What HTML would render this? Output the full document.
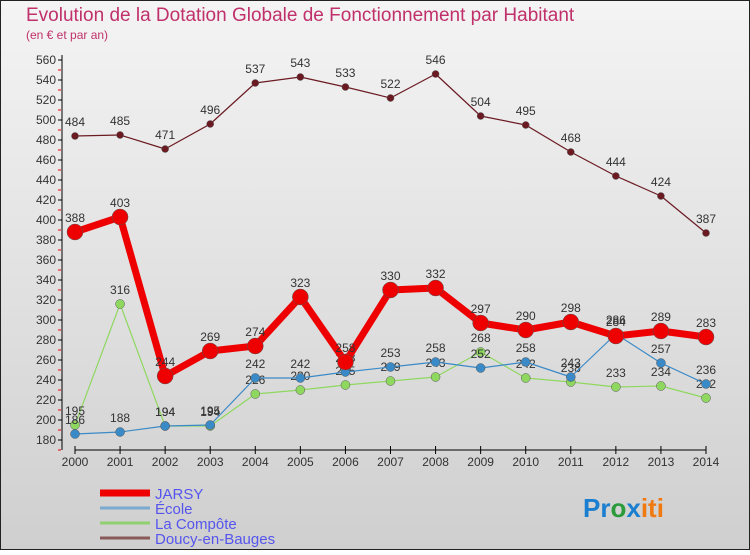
<!DOCTYPE html>
<html><head><meta charset="utf-8"><style>
body{margin:0;width:750px;height:550px;overflow:hidden;font-family:"Liberation Sans",sans-serif}
svg text{font-family:"Liberation Sans",sans-serif}
</style></head><body>
<svg id="c" width="750" height="550" xmlns="http://www.w3.org/2000/svg">
<defs><linearGradient id="bg" x1="0" y1="0" x2="0" y2="1"><stop offset="0" stop-color="#f4f4f4"/><stop offset="1" stop-color="#cfcfcf"/></linearGradient></defs>
<rect x="0.5" y="0.5" width="749" height="549" fill="url(#bg)" stroke="#222"/>
<text x="26" y="21" font-size="19" fill="#c0306a">Evolution de la Dotation Globale de Fonctionnement par Habitant</text>
<text x="26" y="39" font-size="12" fill="#c0306a">(en € et par an)</text>
<g id="axes"></g><g id="series"></g><g id="legend"></g>
<text x="583" y="517" font-size="26" font-weight="bold"><tspan fill="#1a7fd0">Pr</tspan><tspan fill="#2a9a3a">o</tspan><tspan fill="#1a7fd0">x</tspan><tspan fill="#f07a10">iti</tspan></text>
</svg>
<script>
const years=["2000","2001","2002","2003","2004","2005","2006","2007","2008","2009","2010","2011","2012","2013","2014"];
const jarsy=[388,403,244,269,274,323,258,330,332,297,290,298,284,289,283];
const ecole=[186,188,194,195,242,242,248,253,258,252,258,243,286,257,236];
const compote=[195,316,194,194,226,230,235,239,243,268,242,238,233,234,222];
const doucy=[484,485,471,496,537,543,533,522,546,504,495,468,444,424,387];
const yTicks=[180,200,220,240,260,280,300,320,340,360,380,400,420,440,460,480,500,520,540,560];
const NS="http://www.w3.org/2000/svg";
const xs=i=>75+i*(706-75)/14;
const ys=v=>440-(v-180)*(380/380);
function mk(t,a,p){const e=document.createElementNS(NS,t);for(const k in a)e.setAttribute(k,a[k]);p.appendChild(e);return e;}
const ax=document.getElementById('axes');
let l=mk('line',{x1:62,y1:55,x2:62,y2:450,stroke:'#000'},ax);


l=mk('line',{x1:75,y1:450,x2:706,y2:450,stroke:'#000'},ax);


yTicks.forEach(v=>{const y=ys(v);
 mk('line',{x1:58,y1:y,x2:62,y2:y,stroke:'#000'},ax);
 mk('line',{x1:58,y1:y+10,x2:61,y2:y+10,stroke:'#e00'},ax);
 const t=mk('text',{x:56,y:y+4,'font-size':12,'text-anchor':'end',fill:'#333'},ax);t.textContent=v;
 
 });
years.forEach((yr,i)=>{const x=xs(i);
 mk('line',{x1:x,y1:446,x2:x,y2:454,stroke:'#000'},ax);
 const t=mk('text',{x:x,y:466,'font-size':12,'text-anchor':'middle',fill:'#333'},ax);t.textContent=yr;
 
 });
const sg=document.getElementById('series');
function series(vals,color,w,r,name){const g=mk('g',{},sg);
 
 
 const p=mk('polyline',{points:vals.map((v,i)=>xs(i)+','+ys(v)).join(' '),fill:'none',stroke:color,'stroke-width':w,'stroke-linejoin':'round'},g);
 
 
 vals.forEach((v,i)=>{const c=mk('circle',{cx:xs(i),cy:ys(v),r:r,fill:color,stroke:'#555','stroke-width':0.5},g);
  
  
  const t=mk('text',{x:xs(i),y:ys(v)-10,'font-size':12,'text-anchor':'middle',fill:'#333'},g);t.textContent=v;
  
  });}
series(doucy,'#6b1a22',1.2,3.5,'doucy');
series(compote,'#8fd860',1.2,4.5,'compote');
series(ecole,'#3a8ac8',1.2,4.5,'ecole');
series(jarsy,'#ee0000',7,8,'jarsy');
const lg=document.getElementById('legend');
[['JARSY','#ee0000',7,493],['École','#7aaad0',3,508],['La Compôte','#90d070',3,523],['Doucy-en-Bauges','#8a5a5a',3,538]].forEach(([n,c,w,y])=>{
 const g=mk('g',{},lg);
 
 
 mk('line',{x1:100,y1:y,x2:150,y2:y,stroke:c,'stroke-width':w},g);
 const t=mk('text',{x:155,y:y+6,'font-size':15,fill:'#5555ee'},g);t.textContent=n;});
</script>
</body></html>
